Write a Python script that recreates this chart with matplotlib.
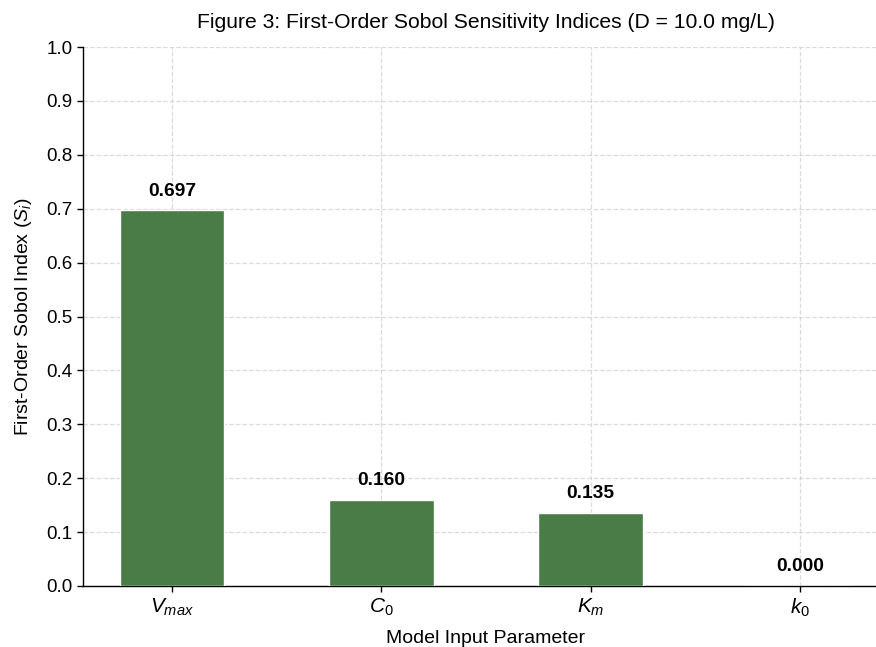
import numpy as np
import matplotlib
matplotlib.use('Agg')
import matplotlib.pyplot as plt

plt.rcParams['font.family'] = ['Liberation Sans', 'DejaVu Sans']
plt.rcParams['mathtext.fontset'] = 'custom'
plt.rcParams['mathtext.rm'] = 'Liberation Sans'
plt.rcParams['mathtext.it'] = 'Liberation Sans:italic'
plt.rcParams['mathtext.bf'] = 'Liberation Sans:bold'

params = ['$V_{max}$', '$C_0$', '$K_m$', '$k_0$']
sobol_first = [0.697, 0.160, 0.135, 0.000]

fig = plt.figure(figsize=(8.76, 6.47), dpi=100)
ax = fig.add_axes([0.0947, 0.0943, 0.920, 0.833])

x = np.arange(len(params))
bars = ax.bar(x, sobol_first, width=0.5, color='#4a7c48', edgecolor='white', linewidth=1.0, zorder=3)

for xi, v in zip(x, sobol_first):
    ax.text(xi, v + 0.02, f'{v:.3f}', ha='center', va='bottom', fontsize=13.8, fontweight='bold')

ax.set_xticks(x)
ax.set_xticklabels(params, fontsize=15)
ax.set_ylim(0, 1.0)
ax.set_yticks(np.arange(0, 1.01, 0.1))
ax.tick_params(axis='y', labelsize=13.5)
ax.tick_params(length=4.2, width=1.0)
ax.set_xlabel('Model Input Parameter', fontsize=14, labelpad=8)
ax.set_ylabel('First-Order Sobol Index ($S_i$)', fontsize=14, labelpad=9)
ax.set_title('Figure 3: First-Order Sobol Sensitivity Indices (D = 10.0 mg/L)', fontsize=15.2, pad=14)

ax.grid(True, linestyle='--', color='#cccccc', alpha=0.7, linewidth=0.9, zorder=0)
ax.spines['top'].set_visible(False)
ax.spines['right'].set_visible(False)
ax.spines['left'].set_linewidth(1.0)
ax.spines['bottom'].set_linewidth(1.0)

fig.savefig('out.png', dpi=100)
